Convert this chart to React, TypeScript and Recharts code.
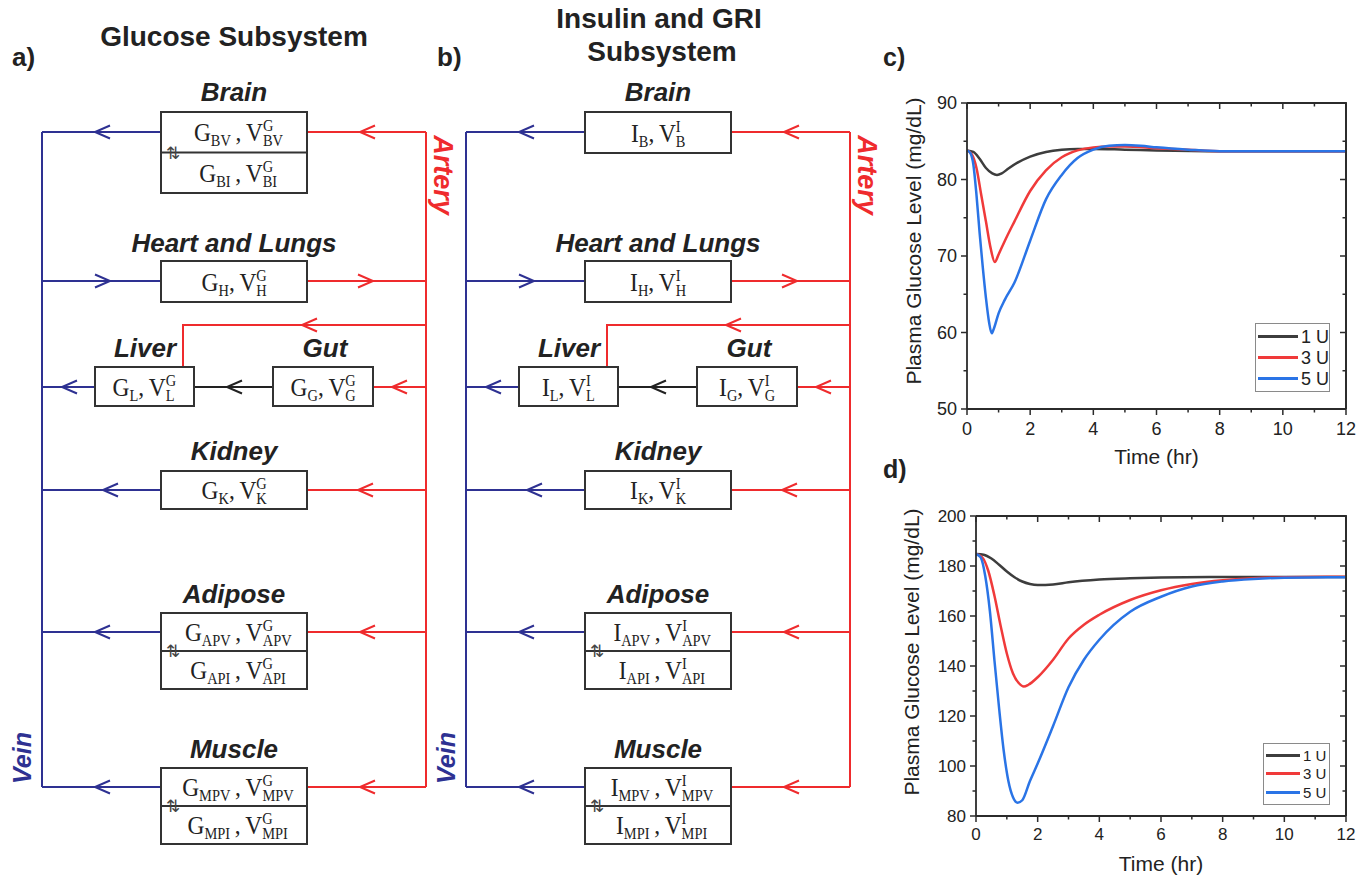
import React from "react";
import { LineChart, Line, XAxis, YAxis, Legend, Label, ReferenceLine } from "recharts";

const SANS = '"Liberation Sans", Arial, sans-serif';
const SERIF = '"Liberation Serif", "DejaVu Serif", serif';
const BLUE = "#2e3192";
const RED = "#ef2b2d";
const INK = "#222";
const AXIS = "#2b2b2b";

const seriesNames = ["1 U", "3 U", "5 U"];
const seriesColors = ["#3d3d3d", "#f03a3a", "#2a74e6"];

// panel c - normal glucose
const tC1 = [0, 0.2, 0.4, 0.6, 0.8, 0.95, 1.1, 1.3, 1.6, 2, 2.5, 3, 3.5, 4, 5, 6, 8, 10, 12];
const gC1 = [83.8, 83.6, 82.7, 81.5, 80.8, 80.6, 80.8, 81.4, 82.2, 83.0, 83.6, 83.9, 84.0, 84.0, 83.9, 83.8, 83.7, 83.7, 83.7];
const tC3 = [0, 0.15, 0.3, 0.45, 0.6, 0.75, 0.88, 1.0, 1.2, 1.5, 2, 2.5, 3, 3.5, 4, 4.5, 5, 6, 7, 8, 10, 12];
const gC3 = [83.8, 83.3, 81.5, 78.0, 74.5, 71.0, 69.2, 70.2, 72.0, 74.5, 78.5, 81.2, 82.9, 83.8, 84.2, 84.3, 84.3, 84.1, 83.9, 83.7, 83.7, 83.7];
const tC5 = [0, 0.1, 0.2, 0.3, 0.4, 0.5, 0.6, 0.7, 0.78, 0.85, 1.0, 1.2, 1.5, 2, 2.5, 3, 3.5, 4, 4.5, 5, 5.5, 6, 7, 8, 10, 12];
const gC5 = [83.8, 83.5, 82.0, 78.0, 73.0, 68.5, 64.5, 61.3, 59.9, 60.5, 62.5, 64.3, 66.5, 72.0, 77.4, 80.6, 82.8, 83.9, 84.4, 84.5, 84.4, 84.2, 83.9, 83.7, 83.7, 83.7];

// panel d - elevated glucose
const tD1 = [0, 0.25, 0.5, 0.75, 1, 1.25, 1.5, 1.75, 2, 2.5, 3, 4, 5, 6, 8, 10, 12];
const gD1 = [184.8, 184.5, 183, 180.5, 177.8, 175.5, 173.8, 172.8, 172.4, 172.6, 173.5, 174.6, 175.1, 175.4, 175.6, 175.6, 175.6];
const tD3 = [0, 0.2, 0.4, 0.6, 0.8, 1, 1.2, 1.4, 1.55, 1.7, 2, 2.5, 3, 3.5, 4, 5, 6, 7, 8, 9, 10, 12];
const gD3 = [184.8, 183.5, 178, 168, 156, 145, 137, 133, 131.8, 132.5, 135.5, 142.5, 151, 156.5, 160.5, 166.4, 170.3, 172.8, 174.3, 175.1, 175.5, 175.7];
const tD5 = [0, 0.15, 0.3, 0.45, 0.6, 0.75, 0.9, 1.05, 1.2, 1.35, 1.5, 1.75, 2, 2.5, 3, 3.5, 4, 5, 6, 7, 8, 9, 10, 12];
const gD5 = [184.8, 183.5, 176, 162, 142, 123, 106, 94, 87.5, 85.3, 86.3, 94, 101, 116, 131.5, 142.5, 150.5, 161.7, 167.7, 171.8, 173.8, 174.8, 175.3, 175.5];

const xTicks = [0, 1, 2, 3, 4, 5, 6, 7, 8, 9, 10, 11, 12];
const yTicksC = [50, 55, 60, 65, 70, 75, 80, 85, 90];
const yTicksD = [80, 90, 100, 110, 120, 130, 140, 150, 160, 170, 180, 190, 200];

const pts = (t: number[], v: number[]) => t.map((x, i) => ({ t: x, v: v[i] }));

const makeTick = (side: string, isMajor: (v: number) => boolean, fs: number) => (props: any) => {
  const { x, y, payload } = props;
  const v = payload.value;
  const major = isMajor(v);
  const len = major ? 6 : 3.5;
  const lp = { stroke: AXIS, strokeWidth: 1.5 };
  if (side === "bottom")
    return (
      <g>
        <line x1={x} x2={x} y1={y} y2={y + len} {...lp} />
        {major && (
          <text x={x} y={y + fs * 1.42} textAnchor="middle" fontSize={fs} fill={INK} fontFamily={SANS}>
            {v}
          </text>
        )}
      </g>
    );
  return (
    <g>
      <line x1={x - len} x2={x} y1={y} y2={y} {...lp} />
      {major && (
        <text x={x - 10} y={y + fs * 0.36} textAnchor="end" fontSize={fs} fill={INK} fontFamily={SANS}>
          {v}
        </text>
      )}
    </g>
  );
};

const LegendBox = (p: any, fs: number, w: number, rowH: number, lineW: number) => (
  <div
    style={{
      border: "1.5px solid #8a8a8a",
      background: "#fff",
      width: w,
      padding: "2px 0",
      boxSizing: "border-box",
      whiteSpace: "nowrap",
    }}
  >
    {(p.payload || []).map((e: any) => (
      <div key={e.value} style={{ display: "flex", alignItems: "center", height: rowH }}>
        <div style={{ width: lineW, height: 3, background: e.color, marginLeft: 2, marginRight: 3, flex: "none" }} />
        <span style={{ fontSize: fs, color: INK, fontFamily: SANS, lineHeight: 1 }}>{e.value}</span>
      </div>
    ))}
  </div>
);

const chartC = {
  left: 880,
  top: 80,
  width: 480,
  height: 400,
  margin: { top: 23, right: 14, bottom: 21, left: 0 },
  yw: 87,
  yDomain: [50, 90],
  yTicks: yTicksC,
  yMajor: (v: number) => v % 10 === 0,
};
const chartD = {
  left: 880,
  top: 490,
  width: 480,
  height: 388,
  margin: { top: 26, right: 14, bottom: 12, left: 0 },
  yw: 96,
  yDomain: [80, 200],
  yTicks: yTicksD,
  yMajor: (v: number) => v % 20 === 0,
};

function GlucoseChart(props: any) {
  const { cfg, series, fs, yLabelDx, yLabelDy, legend } = props;
  const { left, top, width, height, margin, yw, yDomain, yTicks, yMajor } = cfg;
  const axisLine = { stroke: AXIS, strokeWidth: 1.8 };
  return (
    <div style={{ position: "absolute", left, top }}>
      <LineChart width={width} height={height} margin={margin}>
        <XAxis
          dataKey="t"
          type="number"
          domain={[0, 12]}
          ticks={xTicks}
          interval={0}
          height={50}
          tickSize={0}
          tickMargin={0}
          tickLine={false}
          axisLine={axisLine}
          tick={makeTick("bottom", (v) => v % 2 === 0, fs)}
        >
          <Label value="Time (hr)" position="center" dy={23} fontSize={21} fill={INK} fontFamily={SANS} />
        </XAxis>
        <YAxis
          type="number"
          domain={yDomain}
          ticks={yTicks}
          interval={0}
          width={yw}
          tickSize={0}
          tickMargin={0}
          tickLine={false}
          axisLine={axisLine}
          tick={makeTick("left", yMajor, fs)}
        >
          <Label
            value="Plasma Glucose Level (mg/dL)"
            position="center"
            angle={-90}
            dx={yLabelDx}
            dy={yLabelDy}
            fontSize={21}
            fill={INK}
            fontFamily={SANS}
          />
        </YAxis>
        <ReferenceLine y={yDomain[1]} stroke={AXIS} strokeWidth={1.8} ifOverflow="visible" />
        <ReferenceLine x={12} stroke={AXIS} strokeWidth={1.8} ifOverflow="visible" />
        {series.map((s: any, i: number) => (
          <Line
            key={seriesNames[i]}
            data={s}
            dataKey="v"
            name={seriesNames[i]}
            type="monotone"
            stroke={seriesColors[i]}
            strokeWidth={2.5}
            dot={false}
            isAnimationActive={false}
          />
        ))}
        <Legend
          layout="vertical"
          align="center"
          verticalAlign="middle"
          wrapperStyle={{ left: legend.x, top: legend.y, width: legend.w }}
          content={(p: any) => LegendBox(p, legend.fs, legend.w, legend.rowH, legend.lineW)}
        />
      </LineChart>
    </div>
  );
}

// top and right edges of the plot frame, with inward ticks
function FrameEdges({ cfg }: { cfg: any }) {
  const x0 = cfg.left + cfg.margin.left + cfg.yw;
  const x1 = cfg.left + cfg.width - cfg.margin.right;
  const y0 = cfg.top + cfg.margin.top;
  const y1 = cfg.top + cfg.height - cfg.margin.bottom - 50;
  const [lo, hi] = cfg.yDomain;
  const lp = { stroke: AXIS, strokeWidth: 1.5 };
  return (
    <g>
      <polyline points={`${x0},${y0} ${x1},${y0} ${x1},${y1}`} fill="none" stroke={AXIS} strokeWidth={1.8} />
      {xTicks.map((t) => {
        const x = x0 + (t / 12) * (x1 - x0);
        return <line key={"xt" + t} x1={x} x2={x} y1={y0} y2={y0 + (t % 2 === 0 ? 6 : 3.5)} {...lp} />;
      })}
      {cfg.yTicks.map((v: number) => {
        const y = y1 - ((v - lo) / (hi - lo)) * (y1 - y0);
        return <line key={"yt" + v} x1={x1 - (cfg.yMajor(v) ? 6 : 3.5)} x2={x1} y1={y} y2={y} {...lp} />;
      })}
    </g>
  );
}

function Chevron({ x, y, dir, color }: { x: number; y: number; dir: number; color: string }) {
  return (
    <polyline
      points={`${x + 15 * dir},${y - 6.5} ${x},${y} ${x + 15 * dir},${y + 6.5}`}
      fill="none"
      stroke={color}
      strokeWidth={2}
    />
  );
}

function Formula({ s, sub }: { s: string; sub: string }) {
  return (
    <span
      style={{
        display: "inline-block",
        fontFamily: SERIF,
        fontSize: 26,
        color: INK,
        whiteSpace: "nowrap",
        lineHeight: 1,
        transform: "scaleX(0.9)",
      }}
    >
      {s}
      <span style={{ fontSize: 16, position: "relative", top: 5 }}>{sub}</span>
      {sub.length > 1 ? "\u2009,\u2009V" : ",\u2009V"}
      <span style={{ display: "inline-block", fontSize: 16, lineHeight: "15px", verticalAlign: -5, textAlign: "left" }}>
        <span style={{ display: "block" }}>{s}</span>
        <span style={{ display: "block" }}>{sub}</span>
      </span>
    </span>
  );
}

function Subsystem({ off, s, brainRows }: { off: number; s: string; brainRows: string[] }) {
  const boxes = [
    { x: 161, y: 112, w: 146, rows: brainRows, h: brainRows.length > 1 ? 40.5 : 41 },
    { x: 161, y: 261, w: 146, rows: ["H"], h: 41 },
    { x: 95, y: 367, w: 99, rows: ["L"], h: 39 },
    { x: 273, y: 367, w: 100, rows: ["G"], h: 39 },
    { x: 161, y: 471, w: 146, rows: ["K"], h: 38 },
    { x: 161, y: 613, w: 146, rows: ["APV", "API"], h: 38 },
    { x: 161, y: 768, w: 146, rows: ["MPV", "MPI"], h: 38 },
  ];
  const labels = [
    { t: "Brain", x: 234, y: 101 },
    { t: "Heart and Lungs", x: 234, y: 252 },
    { t: "Liver", x: 145, y: 357 },
    { t: "Gut", x: 325, y: 357 },
    { t: "Kidney", x: 234, y: 460 },
    { t: "Adipose", x: 234, y: 603 },
    { t: "Muscle", x: 234, y: 758 },
  ];
  const rowsY = [132, 281, 490, 632, 787];
  return (
    <g transform={`translate(${off},0)`}>
      {/* vein side */}
      <line x1={42} x2={42} y1={132} y2={787} stroke={BLUE} strokeWidth={2} />
      {rowsY.map((y) => (
        <line key={"v" + y} x1={42} x2={161} y1={y} y2={y} stroke={BLUE} strokeWidth={2} />
      ))}
      <line x1={42} x2={95} y1={387} y2={387} stroke={BLUE} strokeWidth={2} />
      <Chevron x={95} y={132} dir={1} color={BLUE} />
      <Chevron x={110} y={281} dir={-1} color={BLUE} />
      <Chevron x={62} y={387} dir={1} color={BLUE} />
      <Chevron x={103} y={490} dir={1} color={BLUE} />
      <Chevron x={95} y={632} dir={1} color={BLUE} />
      <Chevron x={95} y={787} dir={1} color={BLUE} />
      {/* artery side */}
      <line x1={426} x2={426} y1={132} y2={787} stroke={RED} strokeWidth={2} />
      {rowsY.map((y) => (
        <line key={"a" + y} x1={307} x2={426} y1={y} y2={y} stroke={RED} strokeWidth={2} />
      ))}
      <polyline points="426,325 183,325 183,367" fill="none" stroke={RED} strokeWidth={2} />
      <line x1={373} x2={426} y1={387} y2={387} stroke={RED} strokeWidth={2} />
      <Chevron x={360} y={132} dir={1} color={RED} />
      <Chevron x={373} y={281} dir={-1} color={RED} />
      <Chevron x={302} y={325} dir={1} color={RED} />
      <Chevron x={392} y={387} dir={1} color={RED} />
      <Chevron x={358} y={490} dir={1} color={RED} />
      <Chevron x={360} y={632} dir={1} color={RED} />
      <Chevron x={360} y={787} dir={1} color={RED} />
      {/* gut to liver */}
      <line x1={194} x2={273} y1={387} y2={387} stroke={INK} strokeWidth={2} />
      <Chevron x={227} y={387} dir={1} color={INK} />
      {boxes.map((b, i) => (
        <g key={"b" + i}>
          <rect x={b.x} y={b.y} width={b.w} height={b.h * b.rows.length} fill="#fff" stroke="#333" strokeWidth={2} />
          {b.rows.length > 1 && (
            <>
              <line x1={b.x} x2={b.x + b.w} y1={b.y + b.h} y2={b.y + b.h} stroke="#333" strokeWidth={2} />
              <text x={b.x + 12} y={b.y + b.h + 6} textAnchor="middle" fontSize={17} fill="#444" fontFamily="DejaVu Sans">
                ⇅
              </text>
            </>
          )}
          {b.rows.map((r, j) => (
            <foreignObject key={r} x={b.x} y={b.y + j * b.h} width={b.w} height={b.h}>
              <div
                style={{
                  width: "100%",
                  height: "100%",
                  display: "flex",
                  alignItems: "center",
                  justifyContent: "center",
                  paddingTop: 2,
                  paddingLeft: b.rows.length > 1 ? 8 : 0,
                  boxSizing: "border-box",
                }}
              >
                <Formula s={s} sub={r} />
              </div>
            </foreignObject>
          ))}
        </g>
      ))}
      {labels.map((l) => (
        <text
          key={l.t}
          x={l.x}
          y={l.y}
          textAnchor="middle"
          fontSize={26}
          fontWeight="bold"
          fontStyle="italic"
          fill={INK}
          fontFamily={SANS}
        >
          {l.t}
        </text>
      ))}
      <text
        x={22}
        y={758}
        transform="rotate(-90 22 758)"
        textAnchor="middle"
        dominantBaseline="central"
        fontSize={25}
        fontWeight="bold"
        fontStyle="italic"
        fill={BLUE}
        fontFamily={SANS}
      >
        Vein
      </text>
      <text
        x={443}
        y={175}
        transform="rotate(90 443 175)"
        textAnchor="middle"
        dominantBaseline="central"
        fontSize={27}
        fontWeight="bold"
        fontStyle="italic"
        fill={RED}
        fontFamily={SANS}
      >
        Artery
      </text>
    </g>
  );
}

export default function App() {
  const boldTxt = { fontWeight: "bold" as const, fill: INK, fontFamily: SANS };
  return (
    <div
      style={{
        position: "absolute",
        left: 0,
        top: 0,
        width: 1370,
        height: 878,
        background: "#fff",
        overflow: "hidden",
        fontFamily: SANS,
      }}
    >
      <svg width={1370} height={878} style={{ position: "absolute", left: 0, top: 0 }}>
        <text x={234} y={46} textAnchor="middle" fontSize={28} {...boldTxt}>
          Glucose Subsystem
        </text>
        <text x={12} y={66} fontSize={26} {...boldTxt}>
          a)
        </text>
        <text x={659} y={28} textAnchor="middle" fontSize={28} {...boldTxt}>
          Insulin and GRI
        </text>
        <text x={662} y={61} textAnchor="middle" fontSize={28} {...boldTxt}>
          Subsystem
        </text>
        <text x={437} y={66} fontSize={26} {...boldTxt}>
          b)
        </text>
        <text x={883} y={66} fontSize={25} {...boldTxt}>
          c)
        </text>
        <text x={883} y={478} fontSize={25} {...boldTxt}>
          d)
        </text>
        <Subsystem off={0} s="G" brainRows={["BV", "BI"]} />
        <Subsystem off={424} s="I" brainRows={["B"]} />
      </svg>
      <GlucoseChart
        cfg={chartC}
        series={[pts(tC1, gC1), pts(tC3, gC3), pts(tC5, gC5)]}
        fs={18}
        yLabelDx={-10}
        yLabelDy={-15}
        legend={{ x: 375, y: 243, w: 75, fs: 18, rowH: 21, lineW: 40 }}
      />
      <GlucoseChart
        cfg={chartD}
        series={[pts(tD1, gD1), pts(tD3, gD3), pts(tD5, gD5)]}
        fs={17}
        yLabelDx={-16}
        yLabelDy={-14}
        legend={{ x: 383, y: 253, w: 67, fs: 15, rowH: 18.5, lineW: 34 }}
      />
      <svg
        width={1370}
        height={878}
        style={{ position: "absolute", left: 0, top: 0, zIndex: 5, pointerEvents: "none" }}
      >
        <FrameEdges cfg={chartC} />
        <FrameEdges cfg={chartD} />
      </svg>
    </div>
  );
}
